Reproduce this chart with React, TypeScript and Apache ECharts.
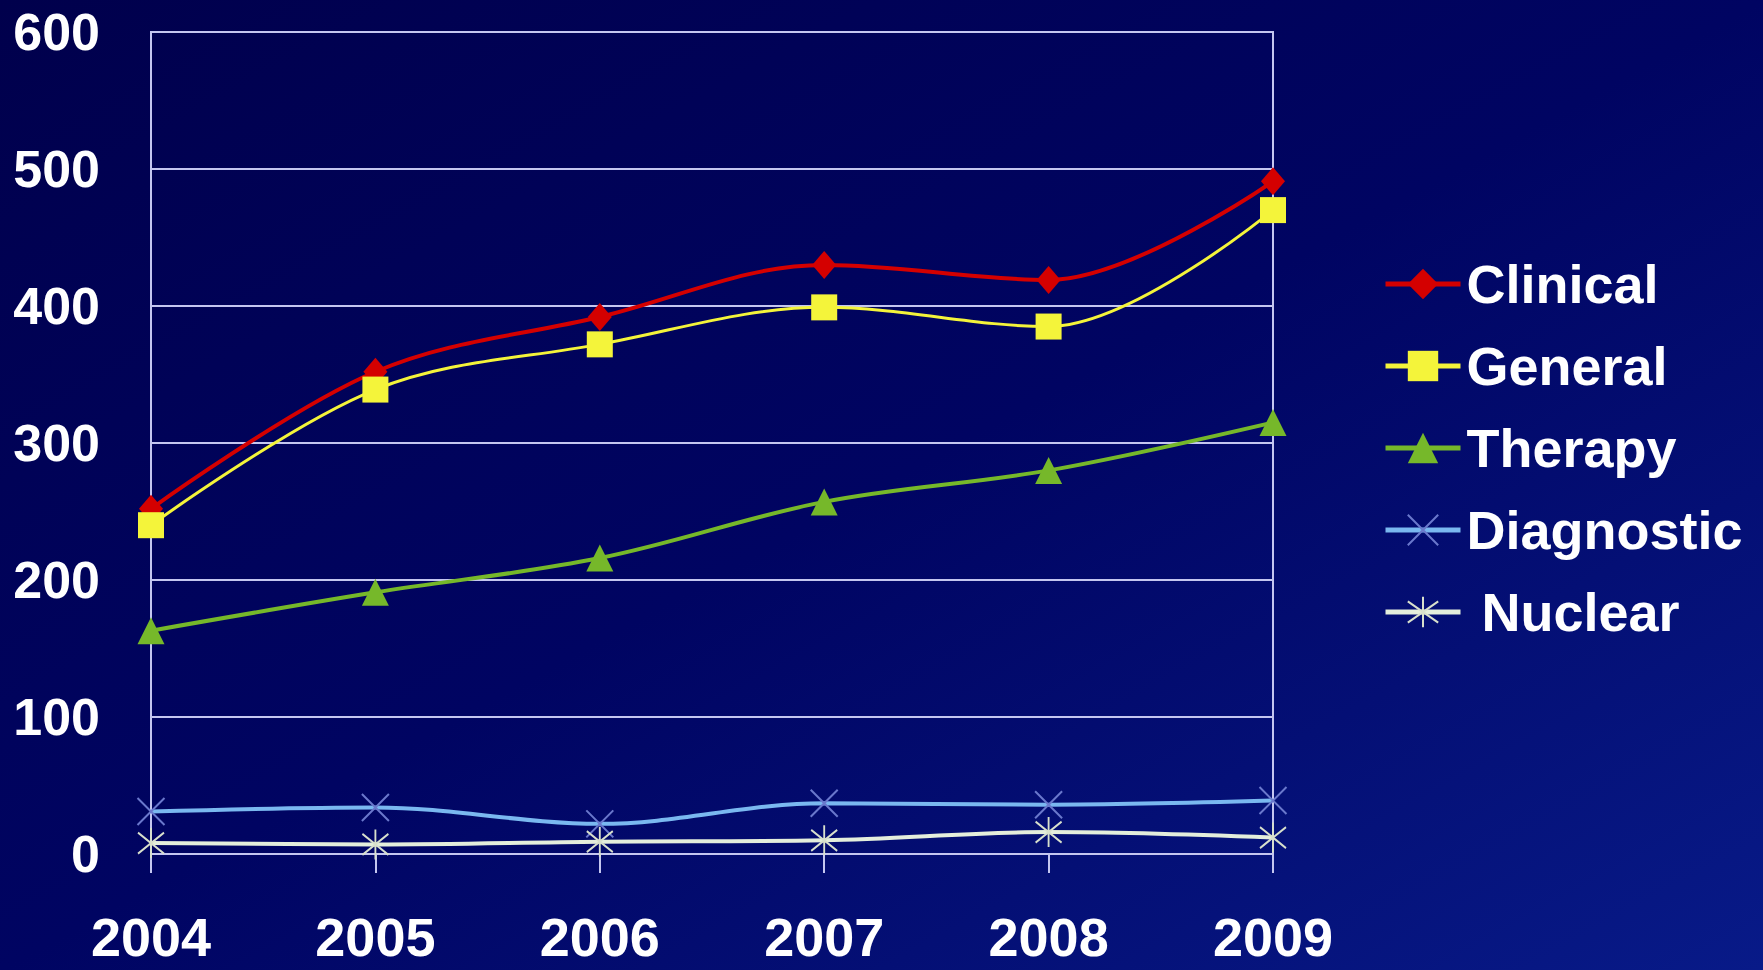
import React, { useEffect, useRef } from "react";
import * as echarts from "echarts";

const years = ["2004", "2005", "2006", "2007", "2008", "2009"];
const clinical = [252, 352, 392, 430, 419, 491];
const general = [240, 339, 372, 399, 385, 470];
const therapy = [163, 191, 216, 257, 280, 315];
const diagnostic = [31, 34, 22, 37, 36, 39];
const nuclear = [8, 7, 9, 10, 16, 12];
const seriesNames = ["Clinical", "General", "Therapy", "Diagnostic", " Nuclear"];

const FONT = "'Liberation Sans', Arial, sans-serif";
const GRIDC = "#c4c6f0";

export default function App() {
  const ref = useRef<HTMLDivElement>(null);
  useEffect(() => {
    document.body.style.margin = "0";
    const chart = echarts.init(ref.current!, null, { renderer: "svg" });
    const xPath = "path://M0,0L10,10M10,0L0,10";
    const starPath = "path://M0,1.5L10,8.5M10,1.5L0,8.5M5,0L5,10";
    chart.setOption({
      animation: false,
      backgroundColor: new echarts.graphic.LinearGradient(0, 0, 1, 1, [
        { offset: 0, color: "#00004c" },
        { offset: 0.5, color: "#000462" },
        { offset: 1, color: "#081a88" },
      ]),
      grid: {
        left: 151,
        right: 490,
        top: 32,
        bottom: 116,
        show: true,
        borderColor: GRIDC,
        borderWidth: 2,
        backgroundColor: "transparent",
      },
      legend: {
        orient: "vertical",
        left: 1378,
        top: 249,
        itemWidth: 75,
        itemHeight: 38,
        itemGap: 22,
        data: seriesNames,
        lineStyle: { width: 5 },
        textStyle: {
          color: "#ffffff",
          fontSize: 54,
          fontWeight: "bold",
          fontFamily: FONT,
          lineHeight: 60,
          padding: [0, 0, 0, 1],
        },
      },
      xAxis: {
        type: "category",
        data: years,
        boundaryGap: false,
        axisLine: { show: true, lineStyle: { color: GRIDC, width: 2 } },
        axisTick: { show: true, length: 19, lineStyle: { color: GRIDC, width: 2 } },
        axisLabel: {
          color: "#ffffff",
          fontSize: 54,
          lineHeight: 54,
          fontWeight: "bold",
          fontFamily: FONT,
          margin: 56,
        },
        splitLine: { show: false },
      },
      yAxis: {
        type: "value",
        min: 0,
        max: 600,
        interval: 100,
        axisLine: { show: true, lineStyle: { color: GRIDC, width: 2 } },
        axisTick: { show: false },
        axisLabel: {
          color: "#ffffff",
          fontSize: 52,
          fontWeight: "bold",
          fontFamily: FONT,
          margin: 51,
        },
        splitLine: { show: true, lineStyle: { color: GRIDC, width: 2 } },
      },
      series: [
        {
          name: seriesNames[0],
          type: "line",
          data: clinical,
          smooth: 0.35,
          symbol: "diamond",
          symbolSize: [24, 28],
          lineStyle: { color: "#d40000", width: 4 },
          itemStyle: { color: "#d40000" },
          z: 5,
        },
        {
          name: seriesNames[1],
          type: "line",
          data: general,
          smooth: 0.35,
          symbol: "rect",
          symbolSize: 26,
          lineStyle: { color: "#f4f43a", width: 3 },
          itemStyle: { color: "#f4f43a" },
          z: 6,
        },
        {
          name: seriesNames[2],
          type: "line",
          data: therapy,
          smooth: 0.35,
          symbol: "triangle",
          symbolSize: [27, 27],
          lineStyle: { color: "#76b82a", width: 4 },
          itemStyle: { color: "#76b82a" },
          z: 4,
        },
        {
          name: seriesNames[3],
          type: "line",
          data: diagnostic,
          smooth: 0.35,
          symbol: xPath,
          symbolSize: 27,
          lineStyle: { color: "#7ab8f0", width: 4 },
          itemStyle: { color: "rgba(0,0,0,0)", borderColor: "#6a78cc", borderWidth: 2 },
          z: 3,
        },
        {
          name: seriesNames[4],
          type: "line",
          data: nuclear,
          smooth: 0.35,
          symbol: starPath,
          symbolSize: [26, 30],
          lineStyle: { color: "#e4eedc", width: 4 },
          itemStyle: { color: "rgba(0,0,0,0)", borderColor: "#d8e0cc", borderWidth: 2 },
          z: 3,
        },
      ],
    });
    return () => chart.dispose();
  }, []);
  return <div ref={ref} style={{ width: 1763, height: 970 }} />;
}
